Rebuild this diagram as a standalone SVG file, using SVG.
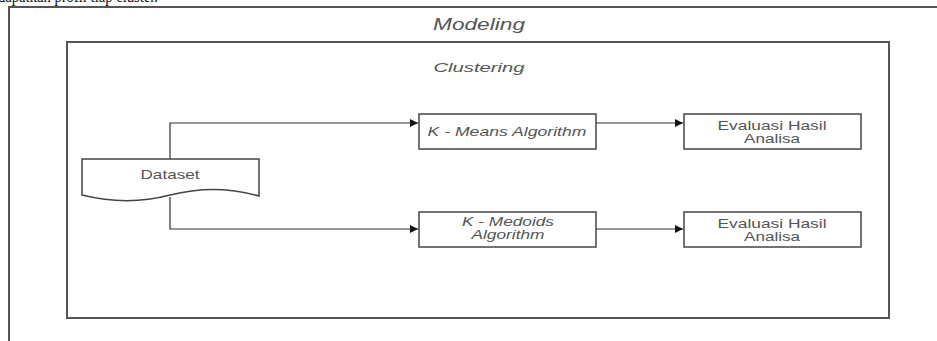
<svg xmlns="http://www.w3.org/2000/svg" width="937" height="341" viewBox="0 0 937 341">
<style>
.frame{fill:none;stroke:#555;stroke-width:2}
.box{fill:#fff;stroke:#444;stroke-width:1.5}
.conn{fill:none;stroke:#333;stroke-width:1.2}
.lbl{font-family:"Liberation Sans",Arial,sans-serif;fill:#555;text-anchor:middle}
.it{font-style:italic}
</style>
<defs>
<marker id="arr" viewBox="0 0 10 10" refX="10" refY="5" markerWidth="10" markerHeight="8" markerUnits="userSpaceOnUse" orient="auto">
<path d="M0,0 L10,5 L0,10 Z" fill="#111"/>
</marker>
</defs>
<rect width="937" height="341" fill="#fff"/>
<text x="-2" y="2" font-family="Liberation Serif,serif" font-size="16" fill="#111" textLength="160" lengthAdjust="spacingAndGlyphs">dapatkan profil tiap cluster.</text>
<g id="modeling">
<path class="frame" d="M9,341 L9,7 L937,7"/>
<text class="lbl it" x="479" y="30" font-size="16" textLength="92" lengthAdjust="spacingAndGlyphs">Modeling</text>
</g>
<g id="clustering">
<rect class="frame" x="67" y="42" width="822" height="276"/>
<text class="lbl it" x="479" y="72" font-size="13.5" textLength="91" lengthAdjust="spacingAndGlyphs">Clustering</text>
</g>
<g id="connectors">
<path class="conn" d="M170,159 L170,123 L418,123" marker-end="url(#arr)"/>
<path class="conn" d="M170,197 L170,229 L418,229" marker-end="url(#arr)"/>
<path class="conn" d="M596,123 L683,123" marker-end="url(#arr)"/>
<path class="conn" d="M596,229 L683,229" marker-end="url(#arr)"/>
</g>
<g id="dataset">
<path class="box" d="M82,159 L259,159 L259,196 C235,189 205,186 170,195 C140,203 110,202 82,195 Z"/>
<text class="lbl" x="170" y="179" font-size="13" textLength="59" lengthAdjust="spacingAndGlyphs">Dataset</text>
</g>
<g id="kmeans">
<rect class="box" x="419" y="114" width="177" height="35"/>
<text class="lbl it" x="507" y="136" font-size="12.5" textLength="159" lengthAdjust="spacingAndGlyphs">K - Means Algorithm</text>
</g>
<g id="kmedoids">
<rect class="box" x="419" y="212" width="177" height="35"/>
<text class="lbl it" x="508" y="226" font-size="12.5" textLength="92" lengthAdjust="spacingAndGlyphs">K - Medoids</text>
<text class="lbl it" x="508" y="239" font-size="12.5" textLength="73" lengthAdjust="spacingAndGlyphs">Algorithm</text>
</g>
<g id="eval1">
<rect class="box" x="684" y="114" width="177" height="35"/>
<text class="lbl" x="772" y="130" font-size="12.5" textLength="109" lengthAdjust="spacingAndGlyphs">Evaluasi Hasil</text>
<text class="lbl" x="772" y="143" font-size="12.5" textLength="56" lengthAdjust="spacingAndGlyphs">Analisa</text>
</g>
<g id="eval2">
<rect class="box" x="684" y="212" width="177" height="35"/>
<text class="lbl" x="772" y="228" font-size="12.5" textLength="109" lengthAdjust="spacingAndGlyphs">Evaluasi Hasil</text>
<text class="lbl" x="772" y="241" font-size="12.5" textLength="56" lengthAdjust="spacingAndGlyphs">Analisa</text>
</g>
</svg>
